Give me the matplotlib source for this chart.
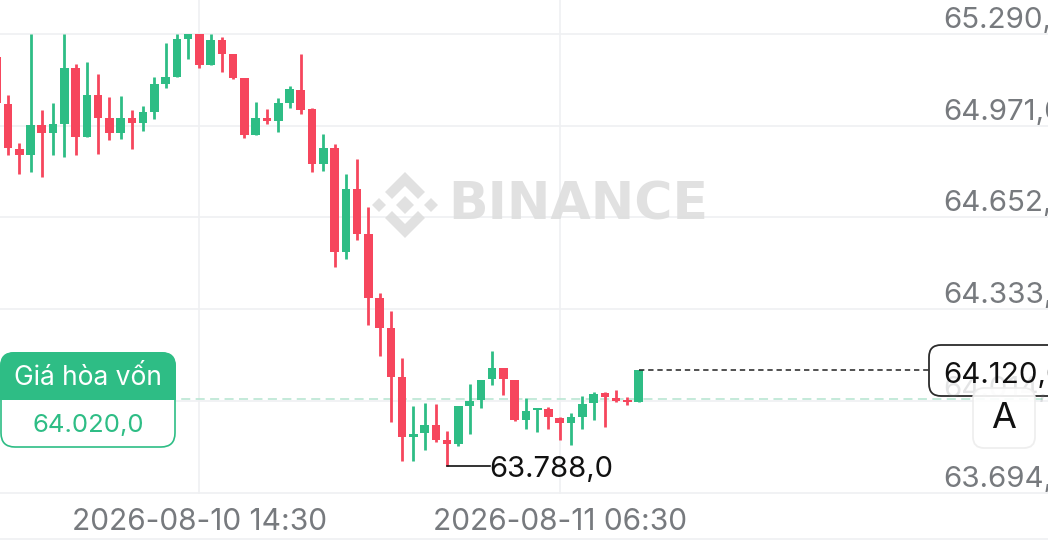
# Binance style candlestick chart
import matplotlib.pyplot as plt
from matplotlib.patches import FancyBboxPatch, Polygon, Rectangle
from matplotlib.transforms import Affine2D

W, H = 1048, 554

# first candle sits half off the left edge
opens = [65210, 65047, 64890, 64869, 64974, 64946, 64977, 65172, 64932, 65078,
         64998, 64946, 64998, 64980, 65019, 65116, 65140, 65273, 65290, 65182,
         65269, 65220, 65137, 64939, 64998, 64987, 65050, 65095, 65029, 64838,
         64894, 64532, 64751, 64594, 64372, 64268, 64097, 63888, 63902, 63930,
         63878, 63864, 63996, 64017, 64090, 64128, 64087, 63947, 63982, 63986,
         63954, 63937, 63958, 64007, 64041, 64024, 64017, 64010]
highs = [65234, 65078, 64911, 65290, 65026, 65050, 65290, 65186, 65193, 65151,
         65071, 65074, 65026, 65040, 65140, 65259, 65290, 65290, 65290, 65290,
         65280, 65220, 65137, 65053, 65029, 65067, 65109, 65220, 65033, 64942,
         64907, 64803, 64855, 64688, 64389, 64327, 64163, 63996, 64007, 64003,
         63909, 63996, 64073, 64087, 64187, 64128, 64087, 64024, 63989, 63993,
         63958, 63972, 64031, 64045, 64045, 64052, 64027, 64120]
lows = [65026, 64869, 64803, 64810, 64793, 64869, 64862, 64869, 64932, 64873,
        64921, 64925, 64890, 64953, 64994, 65102, 65140, 65203, 65172, 65182,
        65158, 65133, 64928, 64939, 64977, 64949, 65033, 65012, 64810, 64814,
        64480, 64507, 64574, 64278, 64170, 63941, 63805, 63805, 63843, 63871,
        63788, 63857, 63899, 63989, 64069, 64034, 63944, 63916, 63906, 63916,
        63878, 63861, 63916, 63947, 63923, 64010, 64000, 64010]
closes = [65050, 64894, 64869, 64974, 64946, 64977, 65172, 64932, 65078, 64998,
          64946, 64998, 64980, 65019, 65116, 65140, 65273, 65290, 65182, 65269,
          65220, 65137, 64939, 64998, 64987, 65050, 65099, 65026, 64838, 64894,
          64532, 64751, 64594, 64372, 64268, 64097, 63888, 63899, 63930, 63878,
          63864, 63996, 64014, 64087, 64128, 64090, 63947, 63979, 63989, 63958,
          63937, 63958, 64003, 64038, 64027, 64014, 64010, 64120]

price_ticks = [65290, 64971, 64652, 64333, 64014, 63694]
price_labels = ['65.290,0', '64.971,0', '64.652,0', '64.333,0', '64.014,0', '63.694,0']
time_ticks = [18, 50]
time_labels = ['2026-08-10 14:30', '2026-08-11 06:30']
breakeven = 64020
last_price = 64120
low_index = 40
low_price = 63788

GREEN = '#2EBD85'
RED = '#F6465D'
GRID = '#EFF0F2'
GREY = '#777A7E'
FONT = 'Inter'

plt.rcParams['font.family'] = [FONT, 'DejaVu Sans']

fig = plt.figure(figsize=(W / 100, H / 100), dpi=100)
ax = fig.add_axes([0, 0, 1, 1])
ax.set_axis_off()
# one candle every 11.26 px, 3.478 price units per px
ax.set_xlim(0.29, 93.36)
ax.set_ylim(63481.4, 65408.25)

# pixel coordinates, origin at the top left like the screenshot
px = Affine2D().scale(1, -1).translate(0, H)

# grid
for p in price_ticks:
    ax.plot([-2, 100], [p, p], color=GRID, lw=1.2, zorder=1)
for t in time_ticks:
    ax.plot([t, t], [price_ticks[-1], 65408], color=GRID, lw=1.2, zorder=1)
ax.plot([-2, 100], [63533, 63533], color=GRID, lw=1.2, zorder=1)

# watermark
WM = '#DEDEDE'
cx, cy = 405, 205
shapes = [
    [(0, -33), (20, -13), (13, -6), (0, -19), (-13, -6), (-20, -13)],
    [(0, 33), (20, 13), (13, 6), (0, 19), (-13, 6), (-20, 13)],
    [(0, -9), (9, 0), (0, 9), (-9, 0)],
    [(-26, -7), (-19, 0), (-26, 7), (-33, 0)],
    [(26, -7), (33, 0), (26, 7), (19, 0)],
]
for s in shapes:
    ax.add_patch(Polygon([(cx + a, cy + b) for a, b in s], closed=True, fc=WM, ec='none',
                         alpha=0.9, transform=px, zorder=2))
ax.text(448.5, 205, 'BINANCE', transform=px, fontsize=37.5, fontweight='bold', color=WM,
        family='DejaVu Sans', alpha=0.9, va='center', ha='left', zorder=2)

# candles
for i in range(len(opens)):
    color = GREEN if closes[i] >= opens[i] else RED
    ax.vlines(i, lows[i], highs[i], color=color, lw=2.0, zorder=3)
    ax.bar(i, abs(closes[i] - opens[i]), bottom=min(opens[i], closes[i]), width=0.76,
           color=color, zorder=3)

# price labels on the right, they run off the edge in the original
for p, lab in zip(price_ticks, price_labels):
    if p == 64014:
        continue
    y = ax.transData.transform((0, p))[1]
    ax.text(943, H - y - 13.5, lab, transform=px, fontsize=21.3, color=GREY, va='center', ha='left', zorder=4)

# time labels
for t, lab in zip(time_ticks, time_labels):
    x = ax.transData.transform((t, 0))[0]
    ax.text(x, 522.5, lab, transform=px, fontsize=21.5, color=GREY, va='center', ha='center', zorder=4)

# break even line and box
ax.plot([10, 100], [breakeven, breakeven], color='#BFE8D7', lw=1.3, ls=(0, (5, 3)), zorder=2.5)
ax.add_patch(FancyBboxPatch((1, 353), 174, 94, boxstyle='round,pad=0,rounding_size=14', fc='white',
                            ec=GREEN, lw=1.2, transform=px, zorder=5))
head = FancyBboxPatch((0, 352), 176, 80, boxstyle='round,pad=0,rounding_size=14', fc=GREEN,
                      ec='none', transform=px, zorder=6)
ax.add_patch(head)
head.set_clip_path(Rectangle((0, 352), 176, 48, transform=px))
ax.text(88, 378, 'Giá hòa vốn', transform=px, fontsize=19, color='white', ha='center', va='center', zorder=7)
ax.text(88, 426, '64.020,0', transform=px, fontsize=18.5, color=GREEN, ha='center', va='center', zorder=7)

# last price
ax.plot([57, 82.8], [last_price, last_price], color='#222222', lw=1.1, ls=(0, (3.5, 2.5)), zorder=4)
ax.add_patch(FancyBboxPatch((929, 345), 140, 51, boxstyle='round,pad=0,rounding_size=12', fc='white',
                            ec='#2B2B2B', lw=1.3, transform=px, zorder=5))
ax.text(943, 389, '64.014,0', transform=px, fontsize=21.3, color=GREY, alpha=0.2, va='center', ha='left', zorder=6)
ax.text(943, 375, '64.120,0', transform=px, fontsize=21.3, color='#111111', va='center', ha='left', zorder=7)

# A button
ax.add_patch(FancyBboxPatch((973, 388), 62, 60, boxstyle='round,pad=0,rounding_size=11', fc='white',
                            ec='#EDEDED', lw=1.3, alpha=0.9, transform=px, zorder=8))
ax.text(1004, 419, 'A', transform=px, fontsize=26, color='#111111', ha='center', va='center', zorder=9)

# lowest price marker
ax.plot([low_index, low_index + 3.8], [low_price, low_price], color='#111111', lw=1.2, zorder=4)
ax.text(489, 470, '63.788,0', transform=px, fontsize=21, color='#111111', va='center', ha='left', zorder=4)

fig.savefig('out.png', dpi=100)
